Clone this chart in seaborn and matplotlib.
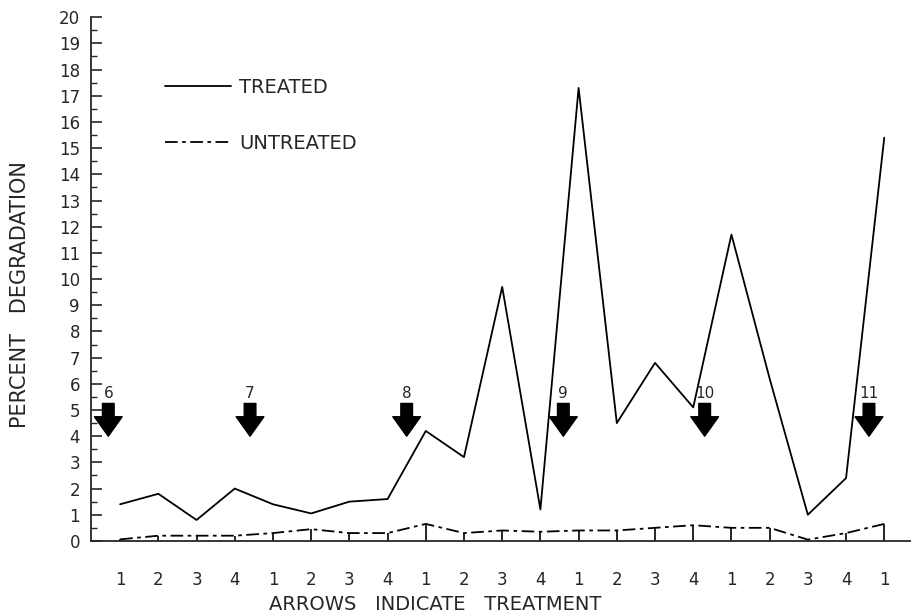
import matplotlib
matplotlib.use("Agg")
import matplotlib.pyplot as plt
import seaborn as sns
import pandas as pd
from matplotlib.ticker import MultipleLocator

# week within each treatment cycle (x tick labels)
week_labels = ["1", "2", "3", "4", "1", "2", "3", "4", "1", "2", "3", "4",
               "1", "2", "3", "4", "1", "2", "3", "4", "1"]
treated = [1.4, 1.8, 0.8, 2.0, 1.4, 1.05, 1.5, 1.6, 4.2, 3.2, 9.7, 1.2,
           17.3, 4.5, 6.8, 5.1, 11.7, 6.2, 1.0, 2.4, 15.4]
untreated = [0.06, 0.2, 0.2, 0.2, 0.3, 0.45, 0.3, 0.3, 0.65, 0.3, 0.4, 0.35,
             0.4, 0.4, 0.5, 0.6, 0.5, 0.5, 0.05, 0.3, 0.65]

# treatment arrows: position along the x axis and treatment number
arrow_pos = [-0.31, 3.4, 7.5, 11.6, 15.3, 19.6]
arrow_labels = ["6", "7", "8", "9", "10", "11"]

sns.set_style("ticks")
plt.rcParams['font.family'] = ['DejaVu Sans']

idx = list(range(len(week_labels)))
df = pd.DataFrame({
    "x": idx * 2,
    "y": treated + untreated,
    "group": ["TREATED"] * len(idx) + ["UNTREATED"] * len(idx),
})

fig = plt.figure(figsize=(9.11, 6.14), dpi=100)
ax = fig.add_axes([0.1, 0.119, 0.9, 0.853])

sns.lineplot(data=df, x="x", y="y", style="group", color="black",
             dashes={"TREATED": "", "UNTREATED": (7, 2.5, 2, 2.5)},
             linewidth=1.3, ax=ax)

# stems from the baseline up to the untreated curve
ax.vlines(idx, 0, untreated, color="black", linewidth=1.2)

for pos, lab in zip(arrow_pos, arrow_labels):
    ax.annotate("", xy=(pos, 4.0), xytext=(pos, 5.25),
                arrowprops=dict(arrowstyle="simple,head_length=0.7,head_width=1.0,tail_width=0.42",
                                color="black", mutation_scale=20, shrinkA=0, shrinkB=0))
    ax.text(pos, 5.35, lab, ha="center", va="bottom", fontsize=11)

ax.set_xlim(-0.76, 20.7)
ax.set_ylim(0, 20)
ax.set_xticks(idx)
ax.set_xticklabels(week_labels, fontsize=12)
ax.tick_params(axis="x", length=0, pad=22)
ax.yaxis.set_major_locator(MultipleLocator(1))
ax.yaxis.set_minor_locator(MultipleLocator(0.5))
ax.tick_params(axis="y", which="major", direction="in", length=8, width=1.2, labelsize=12, pad=8)
ax.tick_params(axis="y", which="minor", direction="in", length=4, width=1)
for side in ["top", "right"]:
    ax.spines[side].set_visible(False)
ax.spines["left"].set_linewidth(1.3)
ax.spines["bottom"].set_linewidth(1.3)

ax.set_xlabel("ARROWS   INDICATE   TREATMENT", fontsize=14)
ax.set_ylabel("PERCENT   DEGRADATION", fontsize=15)
ax.xaxis.set_label_coords(0.42, -0.104)
ax.yaxis.set_label_coords(-0.074, 0.47)

leg = ax.legend(loc="upper left", bbox_to_anchor=(0.069, 0.917), frameon=False,
                handlelength=3.4, handletextpad=0.4, labelspacing=1.9, fontsize=14)

plt.savefig("out.png", dpi=100)
